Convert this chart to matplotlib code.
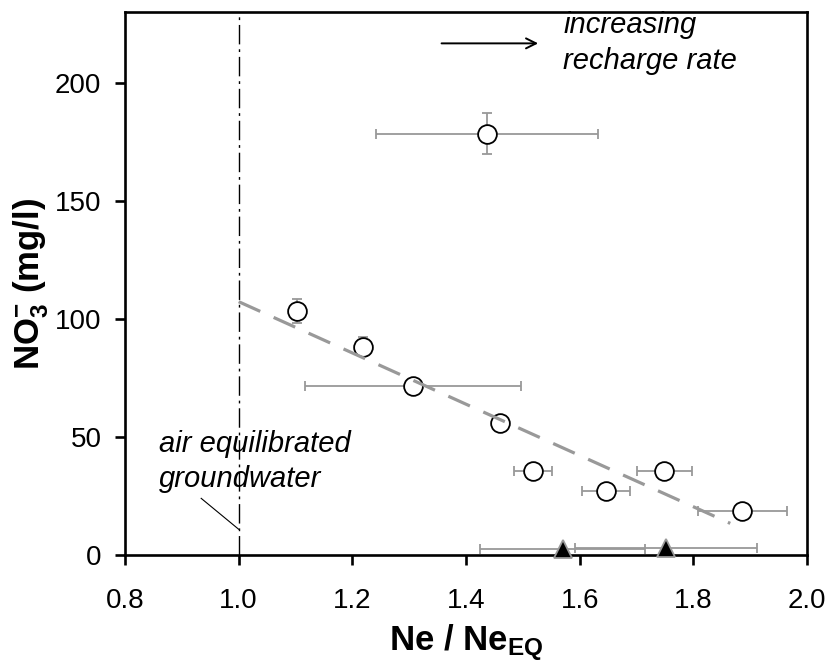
import matplotlib
matplotlib.use("Agg")
import matplotlib.pyplot as plt

plt.rcParams['font.family'] = ['Liberation Sans', 'DejaVu Sans']
plt.rcParams['mathtext.fontset'] = 'custom'
plt.rcParams['mathtext.rm'] = 'Liberation Sans'
plt.rcParams['mathtext.bf'] = 'Liberation Sans:bold'
plt.rcParams['mathtext.it'] = 'Liberation Sans:italic'

# Open-circle samples
ne_ratio = [1.437, 1.103, 1.219, 1.307, 1.460, 1.518, 1.646, 1.749, 1.886]
no3 = [178.5, 103.3, 88.3, 71.5, 55.8, 35.7, 27.1, 35.7, 18.8]
ne_err = [0.196, 0.0, 0.0, 0.19, 0.0, 0.034, 0.042, 0.048, 0.078]
no3_err = [8.8, 5.0, 4.0, 0.0, 0.0, 0.0, 0.0, 0.0, 0.0]

# Triangle samples (near zero nitrate)
tri_x = [1.570, 1.752]
tri_y = [2.5, 3.0]
tri_xerr = [0.145, 0.16]

# Trend line endpoints
trend_x = [1.0, 1.865]
trend_y = [107.3, 13.4]

eq_x = 1.0
x_ticks = [0.8, 1.0, 1.2, 1.4, 1.6, 1.8, 2.0]
y_ticks = [0, 50, 100, 150, 200]

fig = plt.figure(figsize=(8.28, 6.65), dpi=100)
ax = fig.add_axes([0.151, 0.1654, 0.8236, 0.8166])

gray = '#999999'
fs = 20
afs = 21
lfs = 25

ax.axvline(eq_x, color='black', lw=1.0, dashes=(14, 3.5, 2, 3.5), zorder=1)

ax.errorbar(ne_ratio, no3, xerr=ne_err, yerr=no3_err, fmt='none',
            ecolor=gray, elinewidth=1.3, capsize=3.6, capthick=1.3, zorder=2)
ax.errorbar(tri_x, tri_y, xerr=tri_xerr, fmt='none',
            ecolor=gray, elinewidth=1.3, capsize=3.6, capthick=1.3, zorder=2)

ax.plot(ne_ratio, no3, 'o', ms=13.5, mfc='white', mec='black', mew=1.3, zorder=3,
        clip_on=False)
ax.plot(tri_x, tri_y, '^', ms=13.5, mfc='black', mec=gray, mew=1.3, zorder=3,
        clip_on=False)

ax.plot(trend_x, trend_y, color=gray, lw=2.3, dashes=(7.4, 4.6), zorder=4)

ax.set_xlim(0.8, 2.0)
ax.set_ylim(0, 230)
ax.set_xticks(x_ticks)
ax.set_xticklabels([f'{v:.1f}' for v in x_ticks])
ax.set_yticks(y_ticks)

for s in ax.spines.values():
    s.set_linewidth(1.9)
ax.tick_params(direction='out', length=7, width=1.9, labelsize=fs)
ax.tick_params(axis='x', pad=17)
ax.tick_params(axis='y', pad=10)

ax.set_xlabel(r'Ne / Ne$_{\mathbf{EQ}}$', fontsize=lfs, fontweight='bold', labelpad=6)
ax.set_ylabel(r'NO$_{\mathbf{3}}^{\mathbf{-}}$ (mg/l)', fontsize=lfs, fontweight='bold', labelpad=3)

ax.text(0.859, 43.8, 'air equilibrated', fontsize=afs, style='italic',
        ha='left', va='baseline')
ax.text(0.859, 28.9, 'groundwater', fontsize=afs, style='italic',
        ha='left', va='baseline')
ax.plot([0.934, 1.0], [24.0, 10.9], color='black', lw=0.8)

ax.annotate('', xy=(1.527, 216.7), xytext=(1.357, 216.7),
            arrowprops=dict(arrowstyle='->', color='black', lw=1.4,
                            mutation_scale=18, shrinkA=0, shrinkB=0))
ax.text(1.571, 221.0, 'increasing', fontsize=afs, style='italic',
        ha='left', va='baseline')
ax.text(1.571, 205.8, 'recharge rate', fontsize=afs, style='italic',
        ha='left', va='baseline')

fig.savefig('out.png', dpi=100)
